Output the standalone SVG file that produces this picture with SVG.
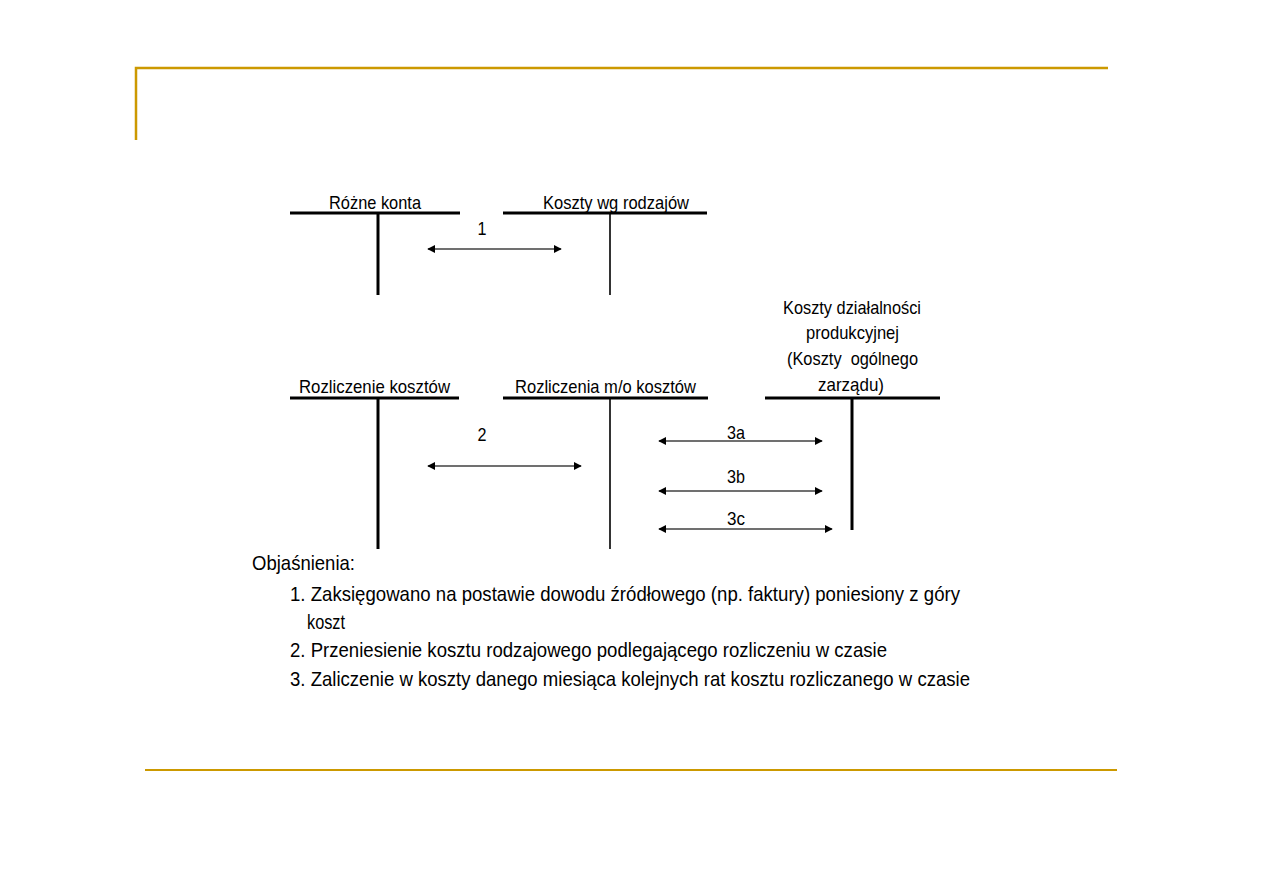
<svg xmlns="http://www.w3.org/2000/svg" width="1263" height="893" viewBox="0 0 1263 893">
<defs>
<style>
.t{font-family:"Liberation Sans",Arial,sans-serif;font-size:19px;fill:#000;}
.lg{font-family:"Liberation Sans",Arial,sans-serif;font-size:21px;fill:#000;}
.acc{stroke:#000;stroke-width:3;fill:none;}
.thin{stroke:#000;stroke-width:1.6;fill:none;}
.arr{stroke:#707070;stroke-width:2;fill:none;marker-start:url(#ah);marker-end:url(#ah);}
.gold{stroke:#cc9900;fill:none;}
</style>
<marker id="ah" viewBox="0 0 10 10" refX="9" refY="5" markerWidth="4" markerHeight="4" orient="auto-start-reverse">
<path d="M0,0 L10,5 L0,10 z" fill="#000"/>
</marker>
</defs>
<rect width="1263" height="893" fill="#fff"/>
<g id="frame">
<path class="gold" stroke-width="2.5" d="M136,140 V68 H1108"/>
<line class="gold" stroke-width="2" x1="145" y1="770" x2="1117" y2="770"/>
</g>
<g id="acc-rozne-konta">
<line class="acc" x1="290" y1="213" x2="460" y2="213"/>
<line class="acc" x1="378" y1="213" x2="378" y2="295"/>
<text class="t" x="375" y="209" text-anchor="middle" textLength="92" lengthAdjust="spacingAndGlyphs">Różne konta</text>
</g>
<g id="acc-koszty-wg-rodzajow">
<line class="acc" x1="503" y1="213" x2="707" y2="213"/>
<line class="thin" x1="610" y1="213" x2="610" y2="295"/>
<text class="t" x="616" y="209" text-anchor="middle" textLength="146" lengthAdjust="spacingAndGlyphs">Koszty wg rodzajów</text>
</g>
<g id="acc-rozliczenie-kosztow">
<line class="acc" x1="290" y1="398" x2="459" y2="398"/>
<line class="acc" x1="378" y1="398" x2="378" y2="549"/>
<text class="t" x="374.5" y="393" text-anchor="middle" textLength="151" lengthAdjust="spacingAndGlyphs">Rozliczenie kosztów</text>
</g>
<g id="acc-rozliczenia-mo-kosztow">
<line class="acc" x1="503" y1="398" x2="708" y2="398"/>
<line class="thin" x1="610" y1="398" x2="610" y2="549"/>
<text class="t" x="605.5" y="393" text-anchor="middle" textLength="181" lengthAdjust="spacingAndGlyphs">Rozliczenia m/o kosztów</text>
</g>
<g id="acc-koszty-dzialalnosci">
<line class="acc" x1="765" y1="398" x2="940" y2="398"/>
<line class="acc" x1="852" y1="398" x2="852" y2="530"/>
<text class="t" x="852" y="314" text-anchor="middle" textLength="138" lengthAdjust="spacingAndGlyphs">Koszty działalności</text>
<text class="t" x="852.5" y="339" text-anchor="middle" textLength="93" lengthAdjust="spacingAndGlyphs">produkcyjnej</text>
<text class="t" x="852.5" y="365" text-anchor="middle" textLength="131" lengthAdjust="spacingAndGlyphs" xml:space="preserve">(Koszty  ogólnego</text>
<text class="t" x="851" y="391" text-anchor="middle" textLength="66" lengthAdjust="spacingAndGlyphs">zarządu)</text>
</g>
<g id="connectors">
<line class="arr" x1="428" y1="249" x2="561" y2="249"/>
<line class="arr" x1="428" y1="466" x2="581" y2="466"/>
<line class="arr" x1="659" y1="441" x2="822" y2="441"/>
<line class="arr" x1="659" y1="491" x2="822" y2="491"/>
<line class="arr" x1="659" y1="529" x2="832" y2="529"/>
<text class="t" x="482" y="235" text-anchor="middle" textLength="9" lengthAdjust="spacingAndGlyphs">1</text>
<text class="t" x="482" y="441" text-anchor="middle" textLength="9" lengthAdjust="spacingAndGlyphs">2</text>
<text class="t" x="736" y="439" text-anchor="middle" textLength="18" lengthAdjust="spacingAndGlyphs">3a</text>
<text class="t" x="736" y="483" text-anchor="middle" textLength="18" lengthAdjust="spacingAndGlyphs">3b</text>
<text class="t" x="736" y="525" text-anchor="middle" textLength="18" lengthAdjust="spacingAndGlyphs">3c</text>
</g>
<g id="legend">
<text class="lg" x="252" y="570" textLength="103" lengthAdjust="spacingAndGlyphs">Objaśnienia:</text>
<text class="lg" x="290" y="601" textLength="670" lengthAdjust="spacingAndGlyphs">1. Zaksięgowano na postawie dowodu źródłowego (np. faktury) poniesiony z góry</text>
<text class="lg" x="307" y="629" textLength="38" lengthAdjust="spacingAndGlyphs">koszt</text>
<text class="lg" x="290" y="657" textLength="597" lengthAdjust="spacingAndGlyphs">2. Przeniesienie kosztu rodzajowego podlegającego rozliczeniu w czasie</text>
<text class="lg" x="290" y="686" textLength="680" lengthAdjust="spacingAndGlyphs">3. Zaliczenie w koszty danego miesiąca kolejnych rat kosztu rozliczanego w czasie</text>
</g>
</svg>
